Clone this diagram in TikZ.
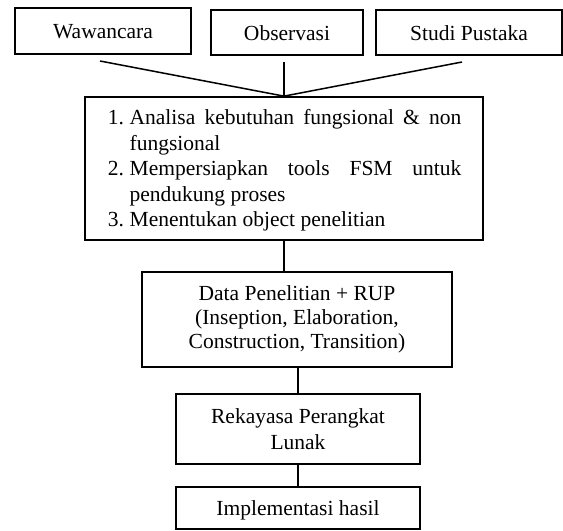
\documentclass[tikz,border=0pt]{standalone}
\usepackage{fontspec}
\setmainfont{Liberation Serif}
\usepackage{enumitem}
\usepackage{tikz}
\usetikzlibrary{positioning,calc}

\begin{document}
\begin{tikzpicture}[
    x=0.53pt, y=-0.53pt,
    box/.style={draw, line width=0.9pt, inner sep=0pt, align=center, font=\fontsize{11.4}{13.5}\selectfont},
    single/.style={box, text height=9.5pt, text depth=1.5pt},
    conn/.style={line width=0.8pt}
  ]
    \useasboundingbox (0,0) rectangle (563,530);

    % sumber data
    \node[single, minimum width=93.3pt, minimum height=24.4pt] (waw) at (103,31) {Wawancara};
    \node[single, minimum width=80.6pt, minimum height=23.9pt] (obs) at (287,32.5) {Observasi};
    \node[single, minimum width=98.6pt, minimum height=23.9pt] (stu) at (469,32.5) {Studi Pustaka};

    % analisa
    \node[box, minimum width=210.9pt, minimum height=75.8pt] (ana) at (284,168.5) {%
      \begin{minipage}{188pt}
      \hyphenpenalty=10000
      \vspace{2pt}
      \begin{enumerate}[leftmargin=12.2pt, labelsep=3pt, itemsep=0pt, topsep=0pt, parsep=0pt, partopsep=0pt]
        \item Analisa kebutuhan fungsional \& non fungsional
        \item Mempersiapkan tools FSM untuk pendukung proses
        \item Menentukan object penelitian
      \end{enumerate}
      \end{minipage}};

    \node[box, font=\fontsize{11.4}{12.6}\selectfont, minimum width=164.3pt, minimum height=50.4pt] (data) at (297,319.5)
      {Data Penelitian + RUP\\(Inseption, Elaboration,\\Construction, Transition)};
    \node[box, minimum width=129.3pt, minimum height=37.1pt] (rek) at (298,429)
      {Rekayasa Perangkat\\Lunak};
    \node[single, minimum width=129.3pt, minimum height=22.3pt] (imp) at (298,508)
      {Implementasi hasil};

    % ujung garis bebas
    \coordinate (wawend) at (100,61);
    \coordinate (obsend) at (284,62);
    \coordinate (stuend) at (462,62);

    \draw[conn] (wawend) -- (ana.north);
    \draw[conn] (obsend) -- (ana.north);
    \draw[conn] (stuend) -- (ana.north);
    \draw[conn] (ana.south) -- (ana.south |- data.north);
    \draw[conn] (rek.north |- data.south) -- (rek.north);
    \draw[conn] (rek.south) -- (imp.north);
  \end{tikzpicture}
\end{document}
